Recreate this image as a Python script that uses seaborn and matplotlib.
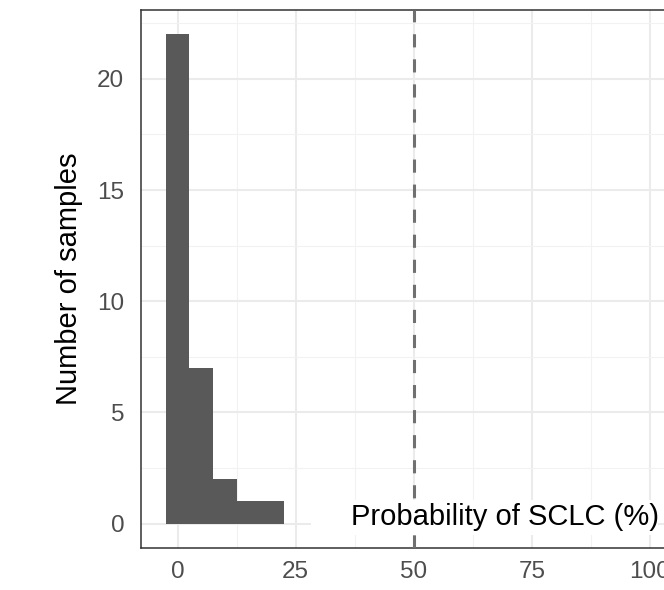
import matplotlib
matplotlib.use("Agg")
import matplotlib.pyplot as plt
from matplotlib.patches import Rectangle
import seaborn as sns
import numpy as np
import pandas as pd

# histogram data (bin centers, counts per bin, width 5)
bin_centers = [0, 5, 10, 15, 20]
counts = [22, 7, 2, 1, 1]
x_ticks = [0, 25, 50, 75, 100]
y_ticks = [0, 5, 10, 15, 20]
cutoff = 50

df = pd.DataFrame({"prob": bin_centers, "n": counts})

sns.set_theme(style="white")
plt.rcParams["font.family"] = ["Liberation Sans", "DejaVu Sans"]

fig = plt.figure(figsize=(6.64, 5.90), dpi=100)
ax = fig.add_axes([141 / 664, 1 - 548 / 590, (686.6 - 141) / 664, 538 / 590])

# grid (major + minor, ggplot theme_bw look)
for v in x_ticks:
    ax.axvline(v, color="#EBEBEB", lw=1.5, zorder=0)
for v in np.arange(12.5, 110, 25):
    ax.axvline(v, color="#F2F2F2", lw=0.8, zorder=0)
for v in y_ticks:
    ax.axhline(v, color="#EBEBEB", lw=1.5, zorder=0)
for v in np.arange(2.5, 25, 5):
    ax.axhline(v, color="#F2F2F2", lw=0.8, zorder=0)

sns.histplot(data=df, x="prob", weights="n", binwidth=5, binrange=(-2.5, 22.5),
             color="#595959", alpha=1, edgecolor="none", linewidth=0, ax=ax, zorder=2)

ax.axvline(cutoff, color="#707070", lw=2.2, linestyle=(0, (4.3, 3.9)), zorder=3)

# label box sitting on the panel
ax.add_patch(Rectangle((0.3116, 0.0242), 0.636, 0.065, transform=ax.transAxes,
                       facecolor="white", edgecolor="none", zorder=4))
ax.text(0.667, 0.057, "Probability of SCLC (%)", transform=ax.transAxes,
        ha="center", va="center", fontsize=21, color="black", zorder=5)

ax.set_xlim(-7.75, 107.75)
ax.set_ylim(-1.1, 23.1)
ax.set_xticks(x_ticks)
ax.set_yticks(y_ticks)
ax.set_xlabel("")
ax.set_ylabel("Number of samples", fontsize=21, color="black", labelpad=10)
ax.tick_params(axis="both", which="major", length=6.5, width=1.4, color="#333333",
               labelcolor="#4D4D4D", labelsize=17.5, direction="out")
ax.tick_params(axis="x", pad=3)
ax.tick_params(axis="y", pad=5.5)
ax.grid(False)
for s in ax.spines.values():
    s.set_visible(True)
    s.set_color("#333333")
    s.set_linewidth(1.1)

fig.savefig("out.png", dpi=100)
